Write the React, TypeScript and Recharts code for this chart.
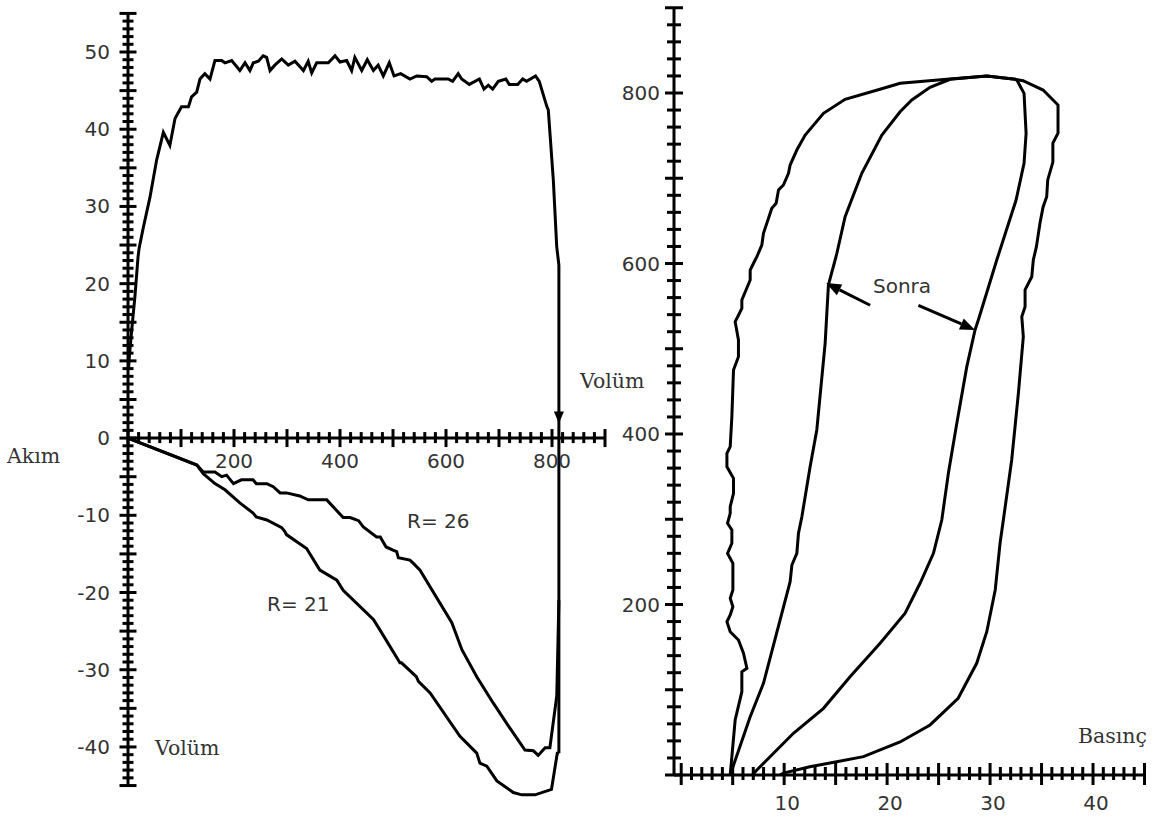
import React from 'react'
import { LineChart, Line, XAxis, YAxis, ReferenceLine } from 'recharts'

type Pt = { x: number; y: number }
const pts = (rows: number[][]): Pt[] => rows.map(([x, y]) => ({ x, y }))

// Akım (flow) – Volüm, inspiration limb: [volume, flow]
const inspiration = pts([
  [1, 9], [2.5, 10.5], [7, 14], [13, 18.3], [19, 23.5], [21, 24.6], [29, 27.3], [41.5, 31.2],
  [54, 36], [66.7, 39.6], [79, 37.9], [88.7, 41.4], [101, 42.9], [114, 42.9], [120, 44.2],
  [129.6, 44.8], [135.8, 46.5], [145, 47.2], [154.7, 46.5], [164, 48.9], [176.7, 48.9],
  [183, 48.6], [195.6, 48.9], [211, 47.6], [220.8, 48.6], [230, 47.6], [236.5, 48.6],
  [246, 48.8], [255, 49.5], [261.6, 49.3], [268, 47.6], [277, 48.3], [290, 49.1],
  [302.5, 48.3], [315, 48.8], [331, 47.6], [340, 48.8], [346.6, 47.3], [356, 48.6],
  [378, 48.6], [390.6, 49.5], [400, 48.7], [412.6, 48.9], [422, 47.6], [428, 49.3],
  [441, 47.6], [451.5, 49], [463, 47.6], [472, 48.3], [481.7, 46.9], [493, 48.6],
  [502, 46.9], [514.5, 47.2], [532, 46.5], [544.7, 46.9], [563.6, 46.8], [573, 46.2],
  [579, 46.5], [604, 46.5], [612.5, 46.2], [623, 47.2], [629.6, 46.5], [644, 45.8],
  [663, 46.5], [671.7, 45.2], [679.8, 45.7], [688, 45.2], [698.7, 46.2], [713, 46.5],
  [719.4, 45.8], [735.3, 45.8], [744.7, 46.5], [752, 46.2], [769, 46.9], [776, 46.2],
  [790, 43], [793, 42.5], [802.5, 33.4], [808.9, 24.8], [813, 22.4], [813, -40.8],
])

// expiration, R= 26
const expR26 = pts([
  [0, 0], [130, -3.5], [142, -4.4], [164, -4.4], [177, -5], [186, -4.8], [199, -5.9],
  [214, -5.4], [236, -5.4], [242, -5.9], [262, -5.9], [274, -6.3], [287, -7.1], [299, -7.1],
  [324, -7.5], [340, -8], [375, -8], [406, -10.3], [419, -10.3], [435, -10.7], [444, -11.5],
  [469, -12.8], [476, -12.8], [487, -14.1], [500, -14.5], [507, -14.7], [510, -15.5],
  [532, -15.8], [538, -16.2], [551, -17.1], [611, -23.9], [630, -27.4], [658, -30.9],
  [689, -34.3], [718, -37.3], [749, -40.4], [765, -40.5], [774, -41.1], [787, -40.1],
  [796, -40.1], [809, -33.4], [813, -21],
])

// expiration, R= 21
const expR21 = pts([
  [0, 0], [130, -3.5], [142, -4.6], [164, -5.9], [183, -6.7], [211, -8.4], [236, -9.7],
  [242, -10.2], [262, -10.6], [290, -11.6], [296, -12.1], [299, -12.5], [337, -14.3],
  [362, -17.1], [394, -18.4], [406, -19.7], [463, -23.5], [475, -24.8], [513, -29.1],
  [516, -29.1], [544, -30.9], [548, -31.5], [570, -33], [626, -38.6], [658, -40.8],
  [664, -42.1], [677, -42.5], [696, -44.4], [727, -45.9], [743, -46.2], [768, -46.2],
  [799, -45.5], [810, -40.8], [813, -40.8],
])

// Basınç – Volüm loops: [pressure, volume]
const loopBefore = pts([
  [4.76, 0], [5.24, 64.5], [5.89, 97.7], [5.89, 121.2], [6.38, 125.2], [6.05, 142.8],
  [5.56, 158.4], [4.76, 168.1], [4.44, 179.8], [4.76, 187.7], [5.02, 197.4], [4.76, 207.3],
  [5.02, 217], [5.02, 248.3], [4.5, 260], [4.92, 271.8], [4.92, 287.4], [4.5, 295.2],
  [4.76, 307], [4.76, 314.7], [5.08, 330.4], [5.08, 348], [4.44, 361.6], [4.44, 377.4],
  [4.76, 385.1], [4.92, 420.3], [5.08, 475.1], [5.56, 490.7], [5.56, 510.3], [5.24, 531.7],
  [5.89, 547.4], [5.89, 557.2], [6.7, 580.6], [6.7, 592.4], [7.18, 604.1], [7.35, 608],
  [7.83, 621.7], [7.99, 635.4], [8.64, 658.9], [8.8, 664.8], [9.22, 670.6], [9.45, 686.2],
  [9.93, 692.1], [10.42, 705.8], [10.58, 715.5], [11.23, 733.1], [12.04, 750.7],
  [13.82, 776.2], [15.92, 792.6], [19.64, 805.5], [21.26, 811.4], [25.8, 816.1],
  [29.68, 820], [32.43, 816.1], [33.2, 814.4], [35.15, 803.5], [36.6, 785.9], [36.6, 753],
  [36.1, 741.3], [36.1, 719], [35.6, 698], [35.5, 678.4], [35.15, 666.3], [34.85, 647.5],
  [34.5, 619.7], [34.2, 604.1], [34.05, 584.5], [33.4, 569], [33.4, 549.3], [33.08, 537.6],
  [33.23, 514.1], [32.75, 447.7], [32.1, 369.5], [31.29, 299.1], [30.97, 271.8],
  [30.5, 217], [29.68, 168.1], [28.7, 131], [26.9, 90], [24.17, 58.7], [21.26, 38.7],
  [17.7, 21.5], [15.1, 15.6], [12.5, 9.7], [9.93, 2.3], [9.6, 0],
])

// "Sonra"
const loopAfter = pts([
  [4.76, 0], [4.92, 5.9], [6.7, 68.4], [7.99, 107.6], [10.58, 226.7], [10.75, 246.3],
  [11.23, 260], [11.39, 283.5], [11.72, 303], [12.52, 361.6], [13.17, 404.7],
  [13.98, 506.4], [14.3, 574.8], [14.95, 604.1], [15.12, 612], [15.92, 654.9],
  [17.54, 705.8], [19.49, 750.7], [21.26, 778], [22.4, 791.8], [24.17, 806.7],
  [26.12, 816.1], [29.68, 820], [32.43, 816.1], [32.6, 815.2], [33.3, 799.6], [33.5, 752.7],
  [33.3, 717.5], [32.52, 674.2], [30.65, 604.1], [28.86, 533.7], [28.54, 522],
  [27.74, 479], [26.77, 412.6], [25.95, 353.9], [25.31, 299.1], [24.5, 260], [23.2, 224.9],
  [21.75, 189.7], [19.32, 154.5], [16.4, 115.3], [13.82, 78.2], [10.9, 48.9], [7.35, 5.9],
  [6.9, 0],
])

const FLOW_LABELS = [-40, -30, -20, -10, 0, 10, 20, 30, 40, 50]
const VOL_LABELS = [200, 400, 600, 800]
const PV_VOL_LABELS = [200, 400, 600, 800]
const PRESSURE_LABELS = [10, 20, 30, 40]

const steps = (from: number, to: number, step: number) => {
  const out: number[] = []
  for (let v = from; v <= to + 1e-9; v += step) out.push(Math.round(v * 100) / 100)
  return out
}
const FLOW_TICKS = steps(-45, 55, 1)
const VOL_TICKS = steps(0, 900, 20)
const PV_VOL_TICKS = steps(0, 900, 20)
const PRESSURE_TICKS = steps(0, 45, 1)

const INK = '#000'
const TEXT = '#333'
const NUM_FONT = '"DejaVu Sans", Verdana, sans-serif'
const WORD_FONT = '"DejaVu Serif", serif'

// layout of the two plots (axes take 1px each, so the plot edges land on the reference axes)
const W = 1153
const H = 817
const LEFT_X0 = 128
const LM = { top: 13.4, left: LEFT_X0 - 1, right: 548, bottom: 15 }
const FLOW_DOMAIN: [number, number] = [-47, 55]
const L_PLOT_H = H - LM.top - LM.bottom - 1
const ZERO_Y = LM.top + (L_PLOT_H * FLOW_DOMAIN[1]) / (FLOW_DOMAIN[1] - FLOW_DOMAIN[0])
const RIGHT_X0 = 674
const RM = { top: 7.75, left: RIGHT_X0 - 1, right: 8.5, bottom: 41 }
const PV_BASE_Y = H - RM.bottom - 1

const numText = { fontFamily: NUM_FONT, fontSize: 20, fill: TEXT }

const xTick =
  (lineY: number, labels: number[], major: (v: number) => boolean, minorLen: [number, number], majorLen: [number, number], labelY: number, dx = 0) =>
  (props: any) => {
    const { x, payload } = props
    const v = payload.value
    const [up, down] = major(v) ? majorLen : minorLen
    return (
      <g>
        <line x1={x} x2={x} y1={lineY - up} y2={lineY + down} stroke={INK} strokeWidth={3} />
        {labels.includes(v) && (
          <text x={x + dx} y={labelY} textAnchor="middle" {...numText}>
            {v}
          </text>
        )}
      </g>
    )
  }

const yTick =
  (lineX: number, labels: number[], major: (v: number) => boolean, minorLen: number, majorLen: number, labelX: number) =>
  (props: any) => {
    const { y, payload } = props
    const v = payload.value
    const len = major(v) ? majorLen : minorLen
    return (
      <g>
        <line x1={lineX - len} x2={lineX + len} y1={y} y2={y} stroke={INK} strokeWidth={3} />
        {labels.includes(v) && (
          <text x={labelX} y={y + 7} textAnchor="end" {...numText}>
            {v}
          </text>
        )}
      </g>
    )
  }

const arrow = (head: number, half: number) => (props: any) => {
  const { x1, y1, x2, y2 } = props
  const dx = x2 - x1
  const dy = y2 - y1
  const len = Math.hypot(dx, dy) || 1
  const ux = dx / len
  const uy = dy / len
  const bx = x2 - ux * head
  const by = y2 - uy * head
  return (
    <g>
      {len > head && <line x1={x1} y1={y1} x2={bx} y2={by} stroke={INK} strokeWidth={3} />}
      <polygon
        points={`${x2},${y2} ${bx - uy * half},${by + ux * half} ${bx + uy * half},${by - ux * half}`}
        fill={INK}
      />
    </g>
  )
}

function FlowVolume() {
  return (
    <LineChart width={W} height={H} margin={LM}>
      <XAxis
        type="number"
        dataKey="x"
        domain={[0, 900]}
        ticks={VOL_TICKS}
        interval={0}
        height={1}
        axisLine={false}
        tickLine={false}
        allowDataOverflow
        tick={xTick(ZERO_Y, VOL_LABELS, (v) => v % 100 === 0, [6, 5], [9, 9], 468)}
      />
      <YAxis
        type="number"
        dataKey="y"
        domain={FLOW_DOMAIN}
        ticks={FLOW_TICKS}
        interval={0}
        width={1}
        axisLine={false}
        tickLine={false}
        allowDataOverflow
        tick={yTick(LEFT_X0, FLOW_LABELS, (v) => v % 5 === 0, 5.5, 8.5, 110)}
      />
      <ReferenceLine y={0} stroke={INK} strokeWidth={3} ifOverflow="visible" />
      <ReferenceLine segment={[{ x: 0, y: -45 }, { x: 0, y: 55 }]} stroke={INK} strokeWidth={3} ifOverflow="visible" />
      <Line data={inspiration} dataKey="y" stroke={INK} strokeWidth={3} dot={false} isAnimationActive={false} />
      <Line data={expR26} dataKey="y" stroke={INK} strokeWidth={3} dot={false} isAnimationActive={false} />
      <Line data={expR21} dataKey="y" stroke={INK} strokeWidth={3} dot={false} isAnimationActive={false} />
      <ReferenceLine segment={[{ x: 813, y: 3.5 }, { x: 813, y: 1.9 }]} ifOverflow="visible" shape={arrow(12, 5)} />
    </LineChart>
  )
}

function PressureVolume() {
  return (
    <LineChart width={W} height={H} margin={RM}>
      <XAxis
        type="number"
        dataKey="x"
        domain={[-0.7, 45]}
        ticks={PRESSURE_TICKS}
        interval={0}
        height={1}
        axisLine={false}
        tickLine={false}
        allowDataOverflow
        tick={xTick(PV_BASE_Y, PRESSURE_LABELS, (v) => v % 5 === 0, [8, 5], [12, 10], 810, 3)}
      />
      <YAxis
        type="number"
        dataKey="y"
        domain={[0, 900]}
        ticks={PV_VOL_TICKS}
        interval={0}
        width={1}
        axisLine={false}
        tickLine={false}
        allowDataOverflow
        tick={yTick(RIGHT_X0, PV_VOL_LABELS, (v) => v % 100 === 0, 7, 9, 660)}
      />
      <ReferenceLine x={-0.7} stroke={INK} strokeWidth={3} ifOverflow="visible" />
      <ReferenceLine y={0} stroke={INK} strokeWidth={3} ifOverflow="visible" />
      <Line data={loopBefore} dataKey="y" stroke={INK} strokeWidth={3} dot={false} isAnimationActive={false} />
      <Line data={loopAfter} dataKey="y" stroke={INK} strokeWidth={3} dot={false} isAnimationActive={false} />
      <ReferenceLine segment={[{ x: 18.35, y: 551 }, { x: 14.08, y: 577 }]} ifOverflow="visible" shape={arrow(15, 6)} />
      <ReferenceLine segment={[{ x: 23.04, y: 551 }, { x: 28.54, y: 522 }]} ifOverflow="visible" shape={arrow(15, 6)} />
    </LineChart>
  )
}

export default function App() {
  const word = { fontFamily: WORD_FONT, fontSize: 20.5, fill: TEXT }
  const sans = { fontFamily: NUM_FONT, fontSize: 20, fill: TEXT }
  return (
    <div style={{ position: 'absolute', left: 0, top: 0, width: W, height: H, background: '#fff' }}>
      <div style={{ position: 'absolute', left: 0, top: 0 }}>
        <FlowVolume />
      </div>
      <div style={{ position: 'absolute', left: 0, top: 0 }}>
        <PressureVolume />
      </div>
      <svg width={W} height={H} style={{ position: 'absolute', left: 0, top: 0, pointerEvents: 'none' }}>
        <text x={7} y={463} {...word}>Akım</text>
        <text x={155} y={755} {...word}>Volüm</text>
        <text x={267} y={611} {...sans}>R= 21</text>
        <text x={407} y={528} {...sans}>R= 26</text>
        <text x={580} y={388} {...word}>Volüm</text>
        <text x={873} y={293} {...sans}>Sonra</text>
        <text x={1078} y={743} {...word}>Basınç</text>
      </svg>
    </div>
  )
}
